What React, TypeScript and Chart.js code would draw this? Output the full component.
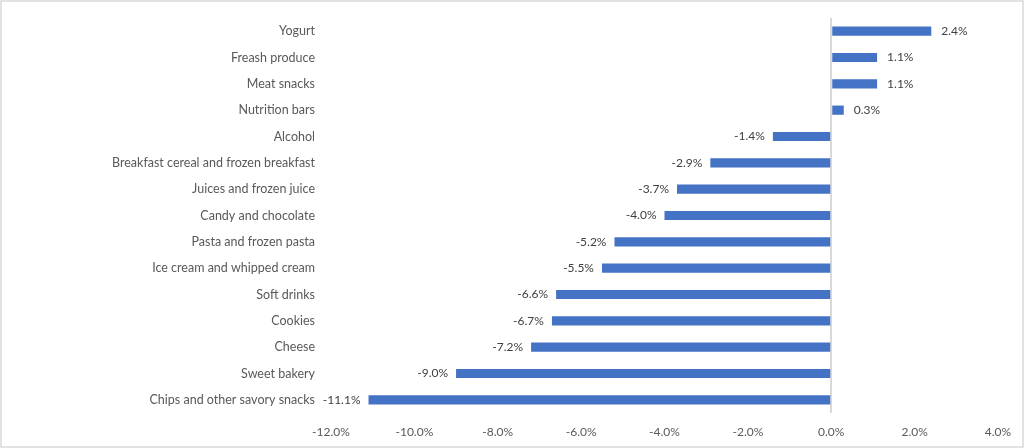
import React, { useEffect, useRef } from "react";
import { Chart, registerables } from "chart.js";

Chart.register(...registerables);

const categories = [
  "Yogurt",
  "Freash produce",
  "Meat snacks",
  "Nutrition bars",
  "Alcohol",
  "Breakfast cereal and frozen breakfast",
  "Juices and frozen juice",
  "Candy and chocolate",
  "Pasta and frozen pasta",
  "Ice cream and whipped cream",
  "Soft drinks",
  "Cookies",
  "Cheese",
  "Sweet bakery",
  "Chips and other savory snacks",
];

const values = [2.4, 1.1, 1.1, 0.3, -1.4, -2.9, -3.7, -4.0, -5.2, -5.5, -6.6, -6.7, -7.2, -9.0, -11.1];

const xMin = -12;
const xMax = 4;
const xStep = 2;

const FONT = "Lato, 'Open Sans', sans-serif";

const labelPlugin = {
  id: "valueLabels",
  afterDatasetsDraw(chart: any) {
    const ctx = chart.ctx;
    const meta = chart.getDatasetMeta(0);
    ctx.save();
    ctx.font = `12px ${FONT}`;
    ctx.fillStyle = "#404040";
    ctx.textBaseline = "middle";
    meta.data.forEach((bar: any, i: number) => {
      const v = values[i];
      const txt = v.toFixed(1) + "%";
      if (v >= 0) {
        ctx.textAlign = "left";
        ctx.fillText(txt, bar.x + 10, bar.y);
      } else {
        ctx.textAlign = "right";
        ctx.fillText(txt, bar.x - 8, bar.y);
      }
    });
    ctx.restore();
  },
};

const borderPlugin = {
  id: "outerBorder",
  beforeDraw(chart: any) {
    const ctx = chart.ctx;
    ctx.save();
    ctx.fillStyle = "#ffffff";
    ctx.fillRect(0, 0, chart.width, chart.height);
    ctx.strokeStyle = "#d9d9d9";
    ctx.lineWidth = 1.5;
    ctx.strokeRect(1, 1, chart.width - 2, chart.height - 2);
    ctx.restore();
  },
};

export default function App() {
  const ref = useRef<HTMLCanvasElement | null>(null);

  useEffect(() => {
    document.body.style.margin = "0";
    const chart = new Chart(ref.current as HTMLCanvasElement, {
      type: "bar",
      data: {
        labels: categories,
        datasets: [
          {
            data: values,
            backgroundColor: "#4472C4",
            borderWidth: 0,
            barPercentage: 0.35,
            categoryPercentage: 1,
          },
        ],
      },
      options: {
        indexAxis: "y",
        animation: false,
        responsive: false,
        devicePixelRatio: 1,
        layout: { padding: { left: 0, right: 26, top: 18, bottom: 0 } },
        plugins: { legend: { display: false }, tooltip: { enabled: false } },
        scales: {
          x: {
            min: xMin,
            max: xMax,
            ticks: {
              stepSize: xStep,
              color: "#595959",
              font: { family: FONT, size: 12 },
              padding: 12,
              callback: (v: any) => Number(v).toFixed(1) + "%",
            },
            grid: {
              drawTicks: false,
              lineWidth: 2,
              color: (c: any) => (c.tick && c.tick.value === 0 ? "#d9d9d9" : "rgba(0,0,0,0)"),
            },
            border: { display: false },
            afterFit: (s: any) => {
              s.height = 35;
            },
          },
          y: {
            ticks: {
              color: "#595959",
              font: { family: FONT, size: 12.5 },
              padding: 16,
            },
            grid: { display: false, drawTicks: false },
            border: { display: false },
            afterFit: (s: any) => {
              s.width = 331;
              s.paddingTop = 0;
              s.paddingBottom = 0;
            },
          },
        },
      },
      plugins: [borderPlugin, labelPlugin],
    });
    return () => chart.destroy();
  }, []);

  return <canvas ref={ref} width={1024} height={448} style={{ display: "block" }} />;
}
